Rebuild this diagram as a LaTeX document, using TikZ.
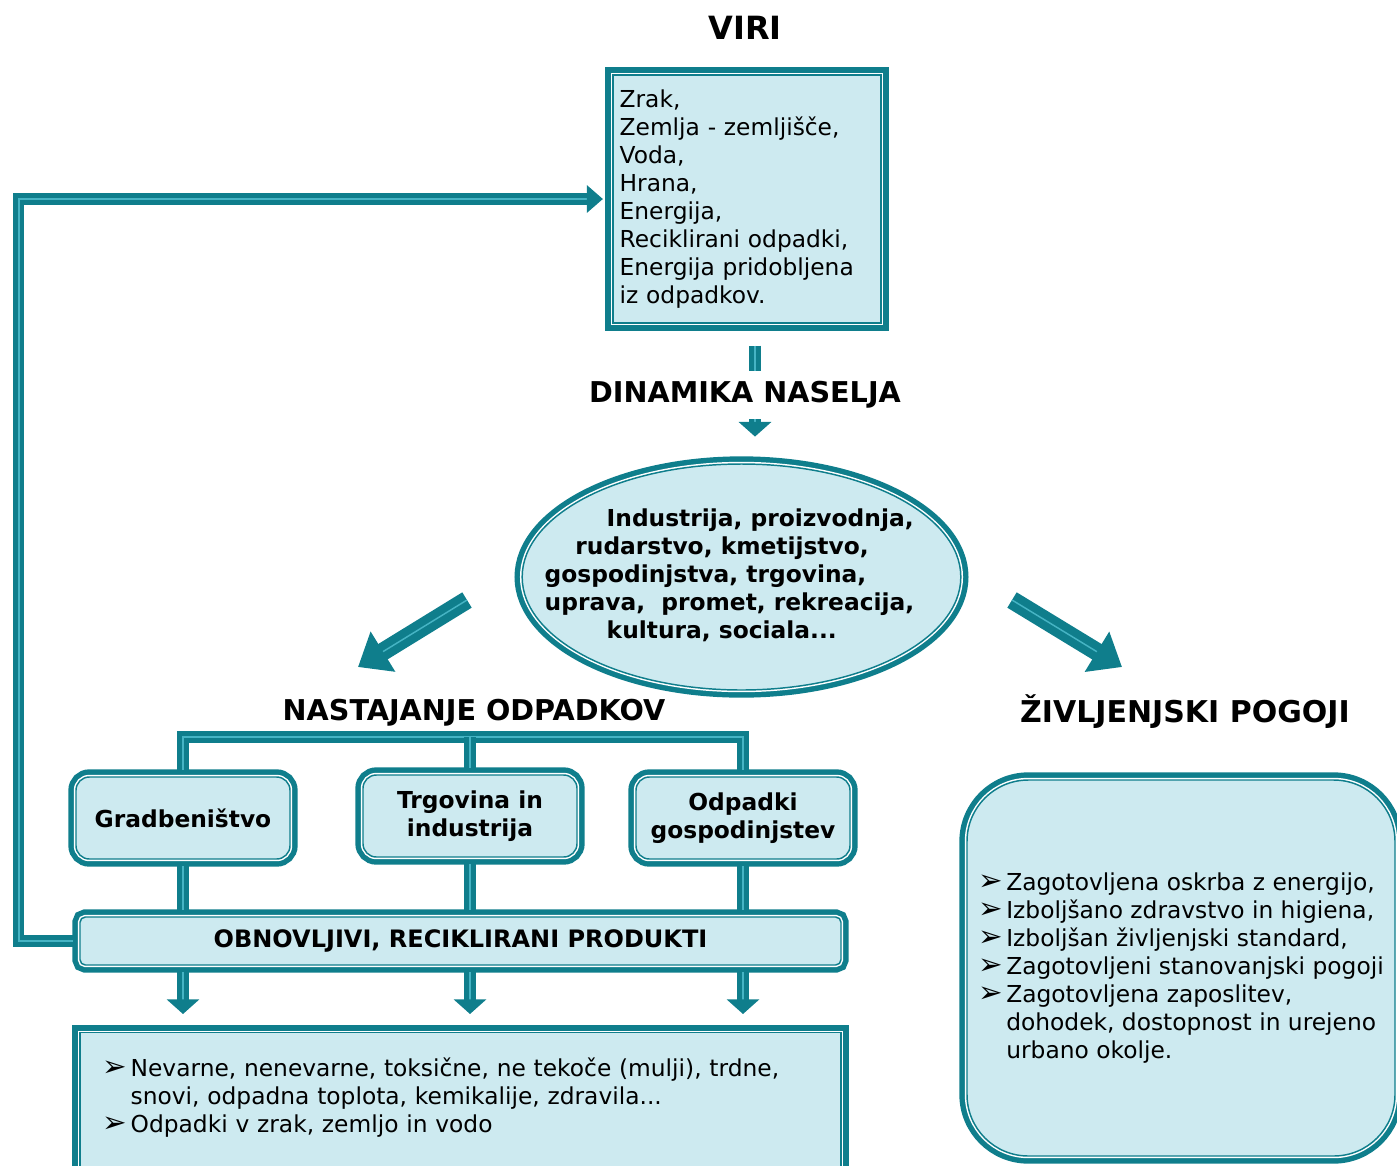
\documentclass[tikz,border=0pt]{standalone}
\usepackage{fontspec}
\setmainfont{DejaVu Sans}
\usetikzlibrary{shapes.geometric,arrows.meta}

\definecolor{frameteal}{RGB}{15,126,140}
\definecolor{boxfill}{RGB}{205,234,240}
\definecolor{pipein}{RGB}{70,180,196}

\tikzset{every picture/.style={line width=0.75pt}}
\tikzset{
  frame/.style={draw=frameteal, line width=1.1pt, fill=boxfill,
    preaction={draw=frameteal, line width=11.5pt},
    preaction={draw=white, line width=3.3pt}},
  pipe/.style={draw=frameteal, line width=3.6pt, double=pipein, double distance=1.1pt},
  bigarrow/.style={draw=frameteal, line width=6.2pt, double=pipein, double distance=1.1pt,
    -{Triangle[length=22pt,width=34pt]}},
  normaltxt/.style={font=\fontsize{17.5pt}{21pt}\selectfont},
  boldtxt/.style={font=\fontsize{17.5pt}{21pt}\selectfont\bfseries},
  heading/.style={font=\fontsize{21.5pt}{26pt}\selectfont\bfseries},
}
\newcommand{\bul}{\makebox[21pt][l]{\fontsize{22pt}{21pt}\selectfont ➢}}
\newcommand{\bulgap}{\hspace*{21pt}}

\begin{document}
\begin{tikzpicture}[x=0.75pt,y=0.75pt,yscale=-1,xscale=1]
\path[use as bounding box, clip] (0,0) rectangle (1397,1165);

% resources
\node[heading, font=\fontsize{24pt}{28pt}\selectfont\bfseries] (virihead) at (745,28) {VIRI};
\node[frame, normaltxt, minimum width=201pt, minimum height=186pt, text width=191pt,
  inner xsep=5pt, align=left] (viri) at (747,199)
  {Zrak,\\ Zemlja - zemljišče,\\ Voda,\\ Hrana,\\ Energija,\\ Reciklirani odpadki,\\
   Energija pridobljena\\ iz odpadkov.};

% settlement dynamics
\node[frame, ellipse, boldtxt, minimum width=329pt, minimum height=169.5pt, inner sep=0pt] (dyn) at (741.5,577)
  {\makebox[0pt]{\begin{tabular}{@{}l@{}}
   \hspace*{46.5pt}Industrija, proizvodnja,\\
   \hspace*{23pt}rudarstvo, kmetijstvo,\\
   gospodinjstva, trgovina,\\
   uprava,\ \ promet, rekreacija,\\
   \hspace*{46.5pt}kultura, sociala...
   \end{tabular}\hspace*{18pt}}};
\draw[pipe, -{Triangle[length=11pt,width=24pt]}, shorten <=16.5pt, shorten >=20pt]
  ([xshift=6pt]viri.south) -- ([xshift=6pt]viri.south |- dyn.north);
\node[heading, fill=white, inner ysep=8pt] (dinamika) at (745,395) {DINAMIKA NASELJA};

\coordinate (gentail) at (467,600);
\coordinate (gentip) at (358,667);
\coordinate (lifetail) at (1012,600);
\coordinate (lifetip) at (1122,667);
\draw[bigarrow] (gentail) -- (gentip);
\draw[bigarrow] (lifetail) -- (lifetip);

% waste generation
\node[heading] (gen) at (474,713) {NASTAJANJE ODPADKOV};
\node[frame, rounded corners=10pt, boldtxt, minimum width=160.5pt, minimum height=61.5pt, align=center] (gradb) at (183,818) {Gradbeništvo};
\node[frame, rounded corners=10pt, boldtxt, minimum width=160.5pt, minimum height=61.5pt, align=center] (trg) at (470,816) {Trgovina in\\ industrija};
\node[frame, rounded corners=10pt, boldtxt, minimum width=160.5pt, minimum height=61.5pt, align=center] (odp) at (743,818) {Odpadki\\ gospodinjstev};

\node[frame, rounded corners=4pt, font=\fontsize{18pt}{21pt}\selectfont\bfseries, minimum width=570.75pt, minimum height=36pt] (obn) at (460.5,941)
  {OBNOVLJIVI, RECIKLIRANI PRODUKTI};

\node[frame, normaltxt, anchor=north, minimum width=570.75pt, text width=536.75pt, inner xsep=17pt,
  inner ysep=19pt, text depth=90pt, align=left] (waste) at (460.5,1032)
  {\bul Nevarne, nenevarne, toksične, ne tekoče (mulji), trdne,\\
   \bulgap snovi, odpadna toplota, kemikalije, zdravila...\\
   \bul Odpadki v zrak, zemljo in vodo};

% living conditions
\node[heading, font=\fontsize{22.5pt}{26pt}\selectfont\bfseries] (cond) at (1185,712) {ŽIVLJENJSKI POGOJI};
\node[frame, rounded corners=46pt, normaltxt, minimum width=321pt, minimum height=282pt, align=left] (life) at (1181,968)
  {\bul Zagotovljena oskrba z energijo,\\
   \bul Izboljšano zdravstvo in higiena,\\
   \bul Izboljšan življenjski standard,\\
   \bul Zagotovljeni stanovanjski pogoji\\
   \bul Zagotovljena zaposlitev,\\
   \bulgap dohodek, dostopnost in urejeno\\
   \bulgap urbano okolje.};

% connectors
\coordinate (split) at (470,737);
\draw[pipe, shorten <=5pt, shorten >=5pt] (gradb.north) |- (split) -| (odp.north);
\draw[pipe, shorten >=5pt] (split) -- (trg.north);
\foreach \b in {gradb,trg,odp}
  \draw[pipe, shorten <=5pt, shorten >=5pt] (\b.south) -- (\b.south |- obn.north);
\foreach \b in {gradb,trg,odp}
  \draw[pipe, -{Triangle[length=11pt,width=24pt]}, shorten <=5pt, shorten >=13.5pt]
    (\b.south |- obn.south) -- (\b.south |- waste.north);
\draw[pipe, -{Triangle[length=12pt,width=20pt]}, shorten <=5pt, shorten >=7pt]
  (obn.west) -- ++(-60.5,0) |- (viri.west);

\end{tikzpicture}
\end{document}
